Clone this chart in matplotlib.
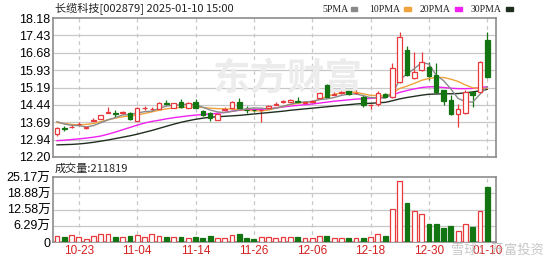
import numpy as np
import matplotlib
matplotlib.use('Agg')
import matplotlib.pyplot as plt

plt.rcParams['font.family'] = ['Liberation Sans', 'Noto Sans CJK SC', 'DejaVu Sans']

# ---- data (price in yuan, volume in lots) ----
dates = ['10-18', '10-21', '10-22', '10-23', '10-24', '10-25', '10-28', '10-29', '10-30', '10-31',
         '11-01', '11-04', '11-05', '11-06', '11-07', '11-08', '11-11', '11-12', '11-13', '11-14',
         '11-15', '11-18', '11-19', '11-20', '11-21', '11-22', '11-25', '11-26', '11-27', '11-28',
         '11-29', '12-02', '12-03', '12-04', '12-05', '12-06', '12-09', '12-10', '12-11', '12-12',
         '12-13', '12-16', '12-17', '12-18', '12-19', '12-20', '12-23', '12-24', '12-25', '12-26',
         '12-27', '12-30', '12-31', '01-02', '01-03', '01-06', '01-07', '01-08', '01-09', '01-10']
opens = [13.18, 13.44, 13.47, 13.60, 13.44, 13.74, 13.85, 14.10, 14.08, 14.09,
         14.09, 13.75, 14.29, 14.25, 14.27, 14.54, 14.31, 14.58, 14.31, 14.55,
         14.18, 14.11, 13.80, 14.24, 14.30, 14.58, 14.24, 14.24, 14.20, 14.30,
         14.44, 14.55, 14.56, 14.59, 14.53, 14.56, 14.73, 15.30, 14.88, 14.96,
         15.04, 14.94, 14.78, 14.42, 14.48, 14.91, 14.80, 15.44, 16.80, 15.59,
         15.94, 16.09, 15.73, 15.08, 14.65, 14.05, 14.08, 14.98, 15.01, 17.23]
closes = [13.46, 13.40, 13.50, 13.62, 13.47, 13.78, 14.00, 14.13, 14.04, 14.12,
          13.84, 14.31, 14.32, 14.28, 14.52, 14.50, 14.52, 14.36, 14.52, 14.32,
          14.02, 13.88, 14.05, 14.27, 14.58, 14.30, 14.21, 14.20, 14.23, 14.40,
          14.48, 14.60, 14.65, 14.57, 14.55, 14.59, 14.97, 14.80, 14.91, 14.99,
          14.90, 14.97, 14.44, 14.45, 14.97, 14.80, 16.02, 17.38, 15.73, 15.87,
          16.30, 15.70, 14.98, 14.61, 14.04, 14.25, 15.01, 14.87, 16.30, 15.66]
highs = [13.50, 13.52, 13.58, 13.70, 13.52, 13.86, 14.02, 14.36, 14.22, 14.18,
         14.14, 14.34, 14.38, 14.36, 14.55, 14.65, 14.54, 14.70, 14.55, 14.70,
         14.20, 14.15, 14.07, 14.35, 14.60, 14.72, 14.40, 14.30, 14.26, 14.42,
         14.55, 14.66, 14.68, 14.77, 14.62, 14.66, 14.99, 15.32, 15.00, 15.05,
         15.06, 15.10, 14.85, 14.50, 15.05, 14.97, 16.23, 17.59, 16.99, 16.73,
         16.73, 16.30, 16.23, 15.10, 14.87, 14.49, 15.10, 15.05, 16.32, 17.59]
lows = [13.10, 13.33, 13.45, 13.55, 13.40, 13.74, 13.82, 14.08, 13.92, 14.06,
        13.80, 13.74, 14.20, 14.20, 14.27, 14.42, 14.30, 14.30, 14.30, 14.30,
        13.98, 13.75, 13.78, 14.20, 14.28, 14.28, 14.10, 14.15, 13.72, 14.28,
        14.42, 14.52, 14.55, 14.55, 14.50, 14.54, 14.72, 14.78, 14.87, 14.93,
        14.88, 14.93, 14.35, 14.28, 14.40, 14.78, 14.72, 15.40, 15.70, 15.55,
        15.90, 15.50, 14.95, 14.44, 14.00, 13.50, 14.05, 14.35, 14.95, 15.60]
volume = [24000, 21000, 26000, 20000, 13000, 23000, 30000, 31000, 18000, 20000,
          23000, 26000, 21000, 30000, 24000, 21000, 20000, 21000, 16000, 18000,
          17000, 23000, 15000, 17000, 26000, 30000, 17000, 12000, 18000, 18000,
          17000, 18000, 21000, 18000, 14000, 14000, 24000, 24000, 14000, 17000,
          14000, 14000, 17000, 18000, 31000, 22000, 129000, 235000, 152000, 122000,
          107000, 71000, 71000, 54000, 61000, 43000, 71000, 57000, 119000, 211819]
ma5 = [13.72, 13.62, 13.56, 13.55, 13.49, 13.55, 13.67, 13.80, 13.89, 14.01,
       14.03, 14.09, 14.15, 14.17, 14.29, 14.39, 14.43, 14.44, 14.48, 14.44,
       14.34, 14.22, 14.14, 14.11, 14.16, 14.22, 14.28, 14.31, 14.30, 14.27,
       14.30, 14.38, 14.47, 14.54, 14.57, 14.59, 14.67, 14.70, 14.76, 14.85,
       14.91, 14.91, 14.84, 14.75, 14.75, 14.73, 14.94, 15.52, 15.78, 16.00,
       16.26, 16.20, 15.72, 15.49, 15.13, 14.72, 14.58, 14.56, 14.90, 15.22]
ma10 = [13.68, 13.64, 13.60, 13.58, 13.60, 13.64, 13.72, 13.80, 13.87, 13.93,
        13.97, 14.01, 14.07, 14.14, 14.21, 14.27, 14.31, 14.33, 14.35, 14.36,
        14.33, 14.30, 14.28, 14.27, 14.26, 14.24, 14.21, 14.19, 14.18, 14.22,
        14.30, 14.38, 14.45, 14.51, 14.55, 14.58, 14.68, 14.80, 14.90, 14.95,
        15.00, 14.98, 14.92, 14.85, 14.84, 14.82, 14.95, 15.15, 15.25, 15.37,
        15.50, 15.58, 15.62, 15.62, 15.55, 15.45, 15.30, 15.18, 15.15, 15.15]
ma20 = [12.90, 12.92, 12.95, 12.98, 13.01, 13.05, 13.10, 13.18, 13.27, 13.37,
        13.47, 13.57, 13.66, 13.73, 13.78, 13.84, 13.89, 13.93, 13.97, 14.00,
        14.03, 14.05, 14.08, 14.12, 14.17, 14.21, 14.23, 14.24, 14.25, 14.27,
        14.31, 14.35, 14.39, 14.42, 14.45, 14.48, 14.52, 14.56, 14.60, 14.63,
        14.66, 14.69, 14.71, 14.72, 14.75, 14.78, 14.87, 14.98, 15.06, 15.13,
        15.19, 15.22, 15.22, 15.19, 15.16, 15.14, 15.14, 15.15, 15.19, 15.22]
ma30 = [12.72, 12.73, 12.74, 12.76, 12.79, 12.83, 12.88, 12.93, 12.99, 13.05,
        13.11, 13.18, 13.26, 13.34, 13.43, 13.52, 13.61, 13.69, 13.76, 13.82,
        13.87, 13.91, 13.93, 13.95, 13.97, 13.99, 14.02, 14.05, 14.08, 14.11,
        14.14, 14.17, 14.21, 14.24, 14.27, 14.30, 14.33, 14.36, 14.39, 14.42,
        14.45, 14.48, 14.50, 14.51, 14.53, 14.55, 14.62, 14.70, 14.76, 14.81,
        14.86, 14.90, 14.91, 14.92, 14.92, 14.93, 14.96, 15.00, 15.05, 15.11]

price_ticks = [12.20, 12.94, 13.69, 14.44, 15.19, 15.93, 16.68, 17.43, 18.18]
vol_ticks = [0, 62900, 125800, 188800, 251700]
vol_labels = ['0', '6.29万', '12.58万', '18.88万', '25.17万']
date_ticks = ['10-23', '11-04', '11-14', '11-26', '12-06', '12-18', '12-30', '01-10']

RED = '#e8393c'
GREEN = '#127512'
GRID = '#c8c8c8'
FRAME = '#8c8c8c'
ma_colors = ['#8a8a8a', '#f0a33c', '#f020f0', '#1f2f1f']

x = np.arange(len(dates))
o = np.array(opens)
c = np.array(closes)
up = c >= o

fig = plt.figure(figsize=(5.49, 2.62), dpi=100)
ax = fig.add_axes([0.0965, 0.401, 0.807, 0.530])
axv = fig.add_axes([0.0965, 0.076, 0.807, 0.248])

tick_pos = [dates.index(d) for d in date_ticks]

for a in (ax, axv):
    a.set_xlim(-0.55, 60.2)
    for t in tick_pos:
        a.axvline(t, color=GRID, lw=0.9, ls=(0, (3, 3)), zorder=0)
    for s in a.spines.values():
        s.set_color(FRAME)
        s.set_linewidth(1.2)
    a.tick_params(length=0, labelsize=9, pad=2)
    a.set_xticks(tick_pos)

# price panel
ax.set_ylim(12.20, 18.18)
ax.set_yticks(price_ticks)
ax.set_yticklabels([f'{v:.2f}' for v in price_ticks])
for v in price_ticks[1:-1]:
    ax.axhline(v, color=GRID, lw=0.9, zorder=0)
ax.set_xticklabels([])

# watermark
ax.text(0.53, 0.56, '东方财富', transform=ax.transAxes, fontsize=27, color='#ececec',
        ha='center', va='center', family=['Noto Sans CJK SC'], fontweight='bold', zorder=0.5)

ax.vlines(x, lows, highs, colors=np.where(up, RED, GREEN), lw=0.9, zorder=2)
body = np.maximum(np.abs(c - o), 0.015)
ax.bar(x, body, bottom=np.minimum(o, c), width=0.62,
       color=np.where(up, 'white', GREEN), edgecolor=np.where(up, RED, GREEN),
       linewidth=0.9, zorder=3)

for vals, col in zip([ma30, ma20, ma10, ma5], ma_colors[::-1]):
    ax.plot(x, vals, color=col, lw=1.0, zorder=2.5)

# volume panel
axv.set_ylim(0, 251700)
axv.set_yticks(vol_ticks)
axv.set_yticklabels(vol_labels, family=['Liberation Sans', 'Noto Sans CJK SC'])
for v in vol_ticks[1:-1]:
    axv.axhline(v, color=GRID, lw=0.9, zorder=0)
axv.set_xticklabels(date_ticks, color='#d42020', fontsize=8.5)
axv.bar(x, volume, width=0.66, color=np.where(up, 'white', GREEN),
        edgecolor=np.where(up, RED, GREEN), linewidth=0.9, zorder=3)

# texts
fig.text(0.10, 0.965, '长缆科技[002879] 2025-01-10 15:00', fontsize=8, va='center',
         family=['Noto Sans CJK SC'], color='#222222')
fig.text(0.10, 0.357, '成交量:211819', fontsize=8, va='center',
         family=['Noto Sans CJK SC'], color='#222222')

labels = ['5PMA', '10PMA', '20PMA', '30PMA']
xs = [0.587, 0.672, 0.765, 0.858]
for lab, lx, col in zip(labels, xs, ma_colors):
    fig.text(lx, 0.965, lab, fontsize=7, va='center', family=['Liberation Serif'], color='#222222')
    fig.patches.append(plt.Rectangle((lx + 0.052 + 0.012 * (len(lab) - 4), 0.958), 0.012, 0.014,
                                     transform=fig.transFigure, color=col))

fig.text(0.99, 0.045, '雪球：开富投资', fontsize=9.5, ha='right', va='center',
         family=['Noto Sans CJK SC'], color='#b8b8b8', alpha=0.8)

fig.savefig('out.png', dpi=100)
